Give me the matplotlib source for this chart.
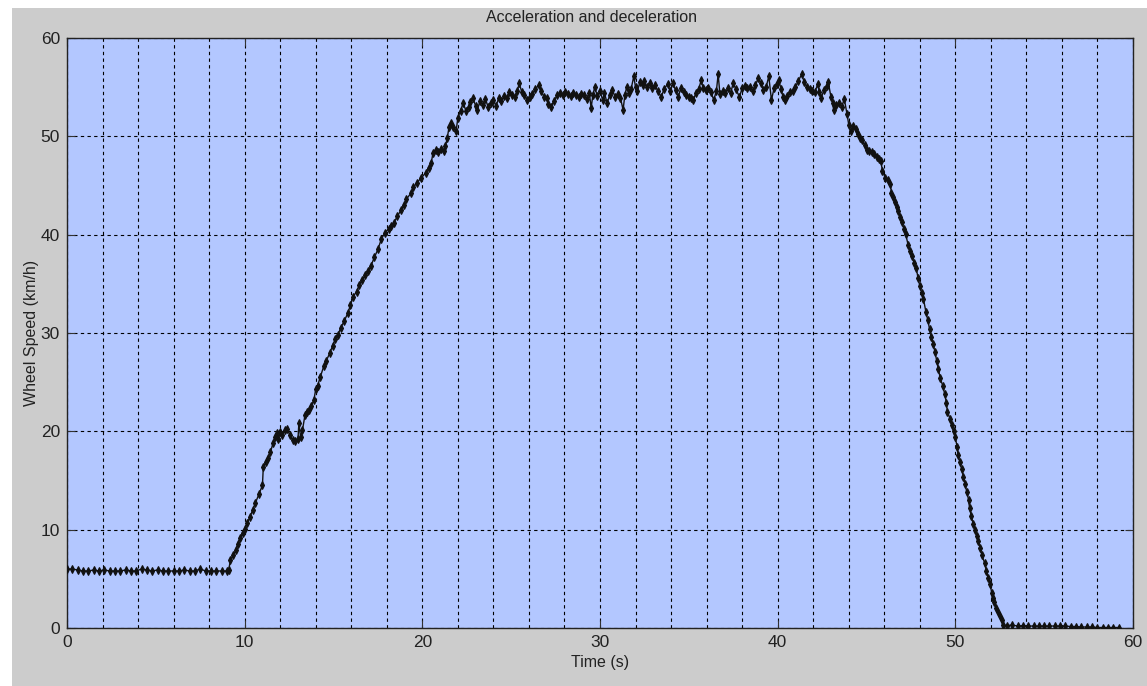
#!/usr/bin/env python3

import numpy as np
import matplotlib.pyplot as plt
from matplotlib.patches import Rectangle

# wheel speed, by phase
idle_t = [0.0, 0.3, 0.6, 0.9, 1.2, 1.5, 1.8, 2.1, 2.4, 2.7, 3.0, 3.3, 3.6, 3.9,
          4.2, 4.5, 4.8, 5.1, 5.4, 5.7, 6.0, 6.3, 6.6, 6.9, 7.2, 7.5, 7.8, 8.1,
          8.4, 8.7, 9.0]
idle_v = [6.0, 6.0, 5.9, 5.8, 5.8, 5.9, 5.8, 5.9, 5.8, 5.8, 5.8, 5.9, 5.8, 5.8,
          6.0, 5.9, 5.8, 5.9, 5.8, 5.8, 5.8, 5.8, 5.9, 5.8, 5.8, 6.0, 5.8, 5.8,
          5.8, 5.8, 5.8]

accel_t = [9.1, 9.2, 9.35, 9.5, 9.6, 9.75, 9.9, 10.0, 10.15, 10.3, 10.45, 10.6,
           10.8, 11.0, 11.05, 11.2, 11.3, 11.45, 11.6, 11.7, 11.8, 11.9, 12.0,
           12.1, 12.25, 12.4, 12.55, 12.7, 12.85, 13.0, 13.05, 13.15, 13.25,
           13.4, 13.5, 13.6, 13.75, 13.9, 14.0, 14.1, 14.25, 14.45, 14.6, 14.8,
           14.95, 15.1, 15.25, 15.4, 15.6, 15.8, 15.95, 16.1, 16.3, 16.45, 16.6,
           16.8, 16.95, 17.1, 17.3, 17.5, 17.7, 17.9, 18.1, 18.25, 18.4, 18.6,
           18.8, 18.95, 19.1, 19.35, 19.5, 19.7, 19.95, 20.2, 20.35, 20.5, 20.6,
           20.75, 20.9, 21.05, 21.2, 21.3, 21.4, 21.5, 21.6, 21.75, 21.9, 22.0,
           22.15, 22.3]
accel_v = [5.9, 6.9, 7.4, 7.9, 8.5, 9.2, 9.7, 10.1, 10.7, 11.3, 12.0, 12.7,
           13.6, 14.5, 16.4, 16.9, 17.3, 17.9, 18.8, 19.4, 19.8, 19.2, 19.9,
           19.6, 20.1, 20.2, 19.6, 19.1, 19.0, 19.2, 20.8, 19.4, 20.1,
           21.7, 22.0, 22.2, 22.6, 23.2, 24.3, 24.6, 25.5, 26.6, 27.2, 28.0,
           28.7, 29.4, 29.8, 30.5, 31.2, 32.0, 32.8, 33.7, 34.2, 34.9, 35.4,
           35.9, 36.3, 36.8, 37.7, 38.5, 39.6, 40.2, 40.6, 40.9, 41.2, 41.9,
           42.5, 43.0, 43.6, 44.2, 44.8, 45.3, 45.8, 46.3, 46.8, 47.3, 48.3,
           48.6, 48.4, 48.7, 48.5, 49.0, 49.8, 50.9, 51.4, 50.9, 50.5, 51.9,
           52.6, 53.4]

cruise_t = [22.45, 22.6, 22.7, 22.85, 23.0, 23.1, 23.25, 23.4, 23.55, 23.7,
            23.85, 24.0, 24.15, 24.3, 24.45, 24.6, 24.75, 24.9, 25.05, 25.2,
            25.35, 25.45, 25.6, 25.75, 25.9, 26.05, 26.2, 26.35, 26.55, 26.7,
            26.85, 27.0, 27.1, 27.25, 27.4, 27.6, 27.75, 27.9, 28.05, 28.2,
            28.35, 28.5, 28.65, 28.8, 28.95, 29.1, 29.25, 29.4, 29.5, 29.6,
            29.7, 29.85, 30.0, 30.15, 30.25, 30.4, 30.55, 30.7, 30.85, 31.0,
            31.15, 31.3, 31.4, 31.5, 31.65, 31.75, 31.9, 32.0, 32.1, 32.25,
            32.4, 32.5, 32.65, 32.8, 32.95, 33.1, 33.25, 33.45, 33.6, 33.8,
            33.95, 34.1, 34.25, 34.4, 34.55, 34.7, 34.85, 35.0, 35.15, 35.25,
            35.4, 35.55, 35.7, 35.8, 35.95, 36.1, 36.25, 36.4, 36.55, 36.65,
            36.75, 36.9, 37.05, 37.2, 37.35, 37.5, 37.65, 37.85, 38.0, 38.15,
            38.3, 38.45, 38.6, 38.75, 38.9, 39.05, 39.2, 39.35, 39.5, 39.65,
            39.8, 39.95, 40.05, 40.2, 40.3, 40.4, 40.55, 40.7, 40.85, 41.0,
            41.15, 41.35, 41.5, 41.65, 41.8, 41.95, 42.1, 42.25, 42.35, 42.45,
            42.6, 42.75, 42.85, 43.0, 43.1, 43.15, 43.3, 43.45, 43.6, 43.75,
            43.9]
cruise_v = [52.6, 53.0, 53.5, 53.9, 53.1, 52.7, 53.6, 53.2, 53.8, 53.0,
            53.4, 53.7, 53.1, 53.9, 53.6, 54.1, 53.9, 54.5, 54.2, 54.0,
            54.6, 55.4, 54.5, 54.2, 53.7, 54.0, 54.3, 54.8, 55.2, 54.6,
            54.0, 53.9, 53.3, 53.0, 53.6, 54.2, 54.4, 54.2, 54.5, 54.3,
            54.1, 54.4, 54.2, 54.0, 54.3, 54.2, 53.8, 54.4, 52.9, 54.2,
            55.0, 54.1, 54.6, 53.7, 54.4, 53.4, 54.2, 54.7, 54.0, 54.3,
            53.9, 52.7, 54.2, 55.0, 54.4, 54.8, 56.1, 55.0, 54.6, 55.5,
            55.2, 55.6, 55.0, 55.4, 54.9, 55.2, 54.6, 54.0, 54.8, 55.3,
            54.6, 55.4, 54.7, 54.0, 54.9, 54.5, 54.2, 54.0, 53.9, 53.7,
            54.4, 54.8, 55.7, 54.9, 54.7, 54.9, 54.5, 53.7, 54.6, 56.3,
            54.3, 54.6, 54.4, 54.9, 54.4, 55.4, 54.8, 54.0, 54.9, 55.1,
            54.9, 55.0, 54.6, 55.2, 55.9, 55.4, 54.7, 55.0, 56.1, 53.7,
            54.9, 55.3, 55.7, 54.8, 54.0, 53.7, 54.1, 54.5, 54.6, 55.0,
            55.6, 56.3, 55.5, 55.0, 54.8, 54.6, 54.5, 55.3, 54.5, 53.9,
            54.7, 55.1, 55.5, 54.0, 53.4, 52.7, 53.2, 53.4, 53.0, 53.8,
            52.3]

decel_t = [44.0, 44.1, 44.25, 44.4, 44.5, 44.65, 44.75, 44.9, 45.0, 45.15,
           45.3, 45.45, 45.6, 45.7, 45.8, 45.9, 46.05, 46.2, 46.35, 46.4, 46.5,
           46.6, 46.7, 46.8, 46.9, 47.0, 47.1, 47.2, 47.35, 47.45, 47.55, 47.7,
           47.8, 47.9, 48.0, 48.1, 48.2, 48.35, 48.45, 48.55, 48.65, 48.75,
           48.85, 48.95, 49.05, 49.15, 49.3, 49.4, 49.5, 49.55, 49.7, 49.8,
           49.9, 50.0, 50.1, 50.15, 50.25, 50.35, 50.45, 50.55, 50.65, 50.75,
           50.8, 50.9, 51.0, 51.1, 51.2, 51.3, 51.4, 51.5, 51.65, 51.75, 51.85,
           51.95, 52.05, 52.1, 52.2, 52.3, 52.4, 52.5, 52.6, 52.7]
decel_v = [51.2, 50.5, 51.0, 50.7, 50.2, 49.8, 49.6, 49.1, 48.6, 48.5,
           48.4, 48.2, 47.9, 47.7, 47.5, 46.5, 45.8, 45.6, 45.2, 44.2, 43.8,
           43.3, 42.8, 42.4, 41.8, 41.3, 40.6, 40.1, 38.9, 38.3, 37.8, 37.1,
           36.6, 35.6, 34.8, 34.1, 33.5, 32.1, 31.3, 30.4, 29.6, 28.9,
           28.1, 27.2, 26.3, 25.4, 24.6, 23.8, 22.9, 22.0, 21.3, 20.6,
           20.0, 19.4, 18.4, 17.6, 16.9, 16.2, 15.4, 14.6, 13.8, 13.0,
           12.2, 11.4, 10.6, 10.0, 9.4, 8.8, 8.1, 7.4, 6.6, 5.8, 5.1,
           4.5, 3.6, 3.1, 2.6, 2.05, 1.6, 1.2, 0.8, 0.3]

stop_t = [52.9, 53.2, 53.5, 53.8, 54.1, 54.4, 54.7, 55.0, 55.3, 55.6, 55.9,
          56.2, 56.5, 56.8, 57.1, 57.4, 57.7, 58.0, 58.3, 58.6, 58.9, 59.2]
stop_v = [0.25, 0.3, 0.2, 0.25, 0.2, 0.2, 0.2, 0.2, 0.2, 0.2, 0.2,
          0.2, 0.15, 0.15, 0.1, 0.1, 0.1, 0.05, 0.05, 0.05, 0.05, 0.05]

t = np.concatenate([idle_t, accel_t, cruise_t, decel_t, stop_t])
v = np.concatenate([idle_v, accel_v, cruise_v, decel_v, stop_v])

plt.rcParams['font.family'] = ['Liberation Sans Narrow', 'Liberation Sans', 'DejaVu Sans']

fig = plt.figure(figsize=(11.47, 6.86), dpi=100, facecolor='#cccccc')
# white strips along the top and left edge of the screenshot
fig.patches.append(Rectangle((0, 1 - 8 / 686), 1, 8 / 686, transform=fig.transFigure,
                             facecolor='white', edgecolor='none', zorder=-1))
fig.patches.append(Rectangle((0, 0), 12 / 1147, 1, transform=fig.transFigure,
                             facecolor='white', edgecolor='none', zorder=-1))

ax = fig.add_axes([67 / 1147, 58 / 686, 1066 / 1147, 590 / 686])
ax.set_facecolor('#b3c7ff')

ax.plot(t, v, color='#111111', lw=1.0, marker='d', ms=4.2, mew=0.8, zorder=3)

ax.set_xlim(0, 60)
ax.set_ylim(0, 60)
ax.set_xticks(np.arange(0, 61, 10))
ax.set_xticks(np.arange(0, 61, 2), minor=True)
ax.set_yticks(np.arange(0, 61, 10))

ax.grid(axis='x', which='both', color='black', ls=(0, (3, 3)), lw=0.8)
ax.grid(axis='y', which='major', color='black', ls=(0, (3, 3)), lw=0.8)
ax.tick_params(which='major', direction='in', length=6, top=True, right=True,
               labelsize=12.5, colors='#333333', labelcolor='#222222', pad=5)
ax.tick_params(which='minor', length=0)
for s in ax.spines.values():
    s.set_color('#222222')
    s.set_linewidth(1.0)

ax.set_xlabel('Time (s)', fontsize=11.5, color='#222222', labelpad=4)
ax.set_ylabel('Wheel Speed (km/h)', fontsize=11.5, color='#222222', labelpad=1)
fig.text(592 / 1147, 0.975, 'Acceleration and deceleration', ha='center',
         va='center', fontsize=11.5, color='#222222')

plt.savefig('out.png', dpi=100, facecolor=fig.get_facecolor())
